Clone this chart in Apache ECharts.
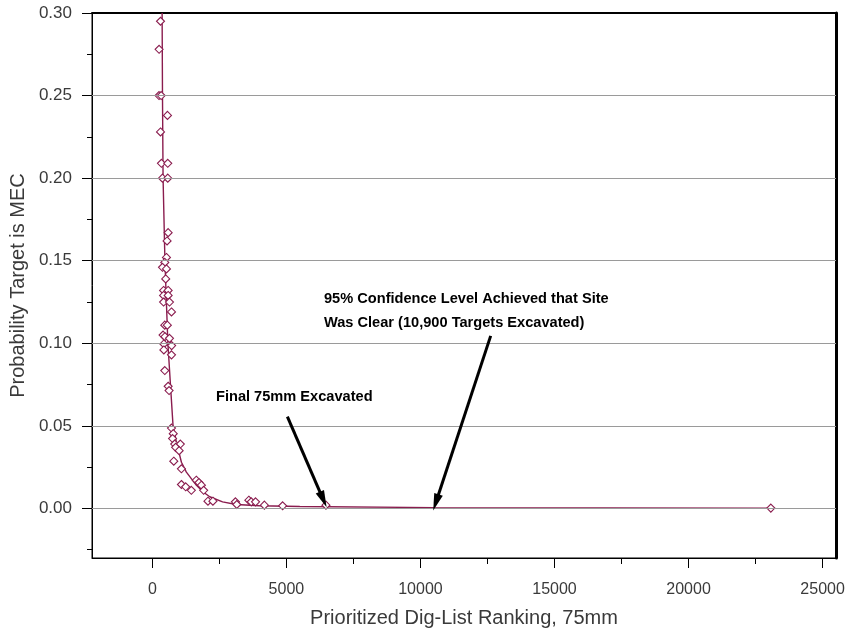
<!DOCTYPE html>
<html>
<head>
<meta charset="utf-8">
<script src="https://cdn.jsdelivr.net/npm/echarts@6/dist/echarts.min.js"></script>
<style>
  html, body { margin: 0; padding: 0; background: #fff; }
  #chart { width: 852px; height: 633px; }
</style>
</head>
<body>
<div id="chart"></div>
<script>
// Fitted probability curve (rank, probability)
const curveRank = [365, 379, 401, 470, 580, 676, 773, 873, 1085, 1270, 1645, 1900, 2140, 2620, 3130, 4000, 5500, 5550, 10500, 10550, 23070];
const curveProb = [0.30, 0.25, 0.20, 0.15, 0.10, 0.075, 0.05, 0.042, 0.028, 0.022, 0.014, 0.010, 0.0071, 0.0040, 0.0024, 0.0016, 0.0012, 0.0007, 0.0005, 0.0003, 0.0002];

// Excavated targets (rank, probability)
const pointRank = [305, 253, 250, 330, 565, 305, 340, 576, 379, 576,
  590, 550, 527, 465, 380, 527, 500, 420, 590, 420,
  590, 420, 640, 715, 465, 560, 400, 470, 640, 430,
  720, 430, 715, 465, 590, 625, 715, 780, 755, 835,
  1045, 870, 1000, 800, 1085, 1085, 1245, 1455, 1640, 1740,
  1830, 1915, 2075, 2260, 3100, 3150, 3600, 3690, 3850, 4180,
  4860, 6476, 23070];
const pointProb = [0.295, 0.278, 0.250, 0.250, 0.238, 0.228, 0.209, 0.209, 0.200, 0.200,
  0.167, 0.162, 0.152, 0.149, 0.146, 0.145, 0.139, 0.132, 0.132, 0.129,
  0.129, 0.125, 0.125, 0.119, 0.111, 0.111, 0.105, 0.104, 0.103, 0.0996,
  0.0986, 0.096, 0.093, 0.0835, 0.074, 0.0714, 0.0487, 0.0453, 0.0423, 0.039,
  0.039, 0.037, 0.035, 0.0286, 0.024, 0.0145, 0.0131, 0.011, 0.0171, 0.0157,
  0.0141, 0.011, 0.0044, 0.0044, 0.0040, 0.0024, 0.005, 0.004, 0.004, 0.002,
  0.0016, 0.002, 0.0002];

// Axis ticks
const xMajorTicks = [0, 5000, 10000, 15000, 20000, 25000];
const xMinorTicks = [2500, 7500, 12500, 17500, 22500];
const yMajorTicks = [0, 0.05, 0.10, 0.15, 0.20, 0.25, 0.30];
const yMinorTicks = [-0.025, 0.025, 0.075, 0.125, 0.175, 0.225, 0.275];
const yGridLines = [0, 0.05, 0.10, 0.15, 0.20, 0.25];

// Callouts: text and arrow from/to (rank, probability)
const finalText = 'Final 75mm Excavated';
const finalArrow = [[5037, 0.0556], [6375, 0.0054]];
const clearText = ['95% Confidence Level Achieved that Site', 'Was Clear (10,900 Targets Excavated)'];
const clearArrow = [[12620, 0.1045], [10576, 0.0036]];

const X_MIN = -2250, X_MAX = 25500, Y_MIN = -0.03, Y_MAX = 0.30;
const FONT = "'Liberation Sans', Arial, sans-serif";
const MAROON = '#8a1c4e';
const LABEL_GRAY = '#3a3a3a';

const chart = echarts.init(document.getElementById('chart'), null, { renderer: 'canvas' });

const curveData = curveRank.map((x, i) => [x, curveProb[i]]);
const pointData = pointRank.map((x, i) => [x, pointProb[i]]);

const arrowLine = (pair) => [
  { coord: pair[0], symbol: 'none' },
  { coord: pair[1], symbol: 'triangle', symbolSize: [9, 17] }
];

chart.setOption({
  animation: false,
  backgroundColor: '#fff',
  grid: { left: 92, right: 16, top: 13, bottom: 74, show: true, borderColor: '#000', borderWidth: 1, backgroundColor: '#fff' },
  xAxis: [
    {
      type: 'value', min: X_MIN, max: X_MAX, position: 'bottom',
      axisLine: { show: true, onZero: false, lineStyle: { color: '#000', width: 1 } },
      axisTick: { show: true, customValues: xMajorTicks, length: 10, lineStyle: { color: '#000' } },
      axisLabel: { customValues: xMajorTicks, margin: 24, fontSize: 16, color: LABEL_GRAY, fontFamily: FONT,
        formatter: (v) => String(v) },
      splitLine: { show: false },
      name: 'Prioritized Dig-List Ranking, 75mm', nameLocation: 'middle', nameGap: 50,
      nameTextStyle: { fontSize: 20, color: LABEL_GRAY, fontFamily: FONT }
    },
    {
      type: 'value', min: X_MIN, max: X_MAX, position: 'bottom',
      axisLine: { show: false, onZero: false },
      axisTick: { show: true, customValues: xMinorTicks, length: 6, lineStyle: { color: '#000' } },
      axisLabel: { show: false }, splitLine: { show: false }
    },
    {
      type: 'value', min: X_MIN, max: X_MAX, position: 'top',
      axisLine: { show: true, onZero: false, lineStyle: { color: '#000', width: 2 } },
      axisTick: { show: false }, axisLabel: { show: false }, splitLine: { show: false }
    }
  ],
  yAxis: [
    {
      type: 'value', min: Y_MIN, max: Y_MAX, position: 'left',
      axisLine: { show: true, onZero: false, lineStyle: { color: '#000', width: 1 } },
      axisTick: { show: true, customValues: yMajorTicks, length: 10, lineStyle: { color: '#000' } },
      axisLabel: { customValues: yMajorTicks, margin: 20, fontSize: 17, color: LABEL_GRAY, fontFamily: FONT,
        formatter: (v) => v.toFixed(2) },
      splitLine: { show: false },
      name: 'Probability Target is MEC', nameLocation: 'middle', nameGap: 60,
      nameTextStyle: { fontSize: 20, color: LABEL_GRAY, fontFamily: FONT }
    },
    {
      type: 'value', min: Y_MIN, max: Y_MAX, position: 'left',
      axisLine: { show: false, onZero: false },
      axisTick: { show: true, customValues: yMinorTicks, length: 5, lineStyle: { color: '#000' } },
      axisLabel: { show: false }, splitLine: { show: false }
    },
    {
      type: 'value', min: Y_MIN, max: Y_MAX, position: 'right',
      axisLine: { show: true, onZero: false, lineStyle: { color: '#000', width: 3 } },
      axisTick: { show: false }, axisLabel: { show: false }, splitLine: { show: false }
    }
  ],
  series: [
    {
      // horizontal reference lines
      type: 'line', data: [], z: 1, silent: true,
      markLine: {
        silent: true, symbol: 'none', animation: false,
        label: { show: false },
        lineStyle: { color: '#9a9a9a', width: 1, type: 'solid' },
        data: yGridLines.map(v => ({ yAxis: v }))
      }
    },
    {
      name: 'curve', type: 'line', data: curveData, z: 3,
      showSymbol: false, clip: true,
      lineStyle: { color: MAROON, width: 1.4 },
      markLine: {
        silent: true, animation: false,
        label: { show: false },
        lineStyle: { color: '#000', width: 3, type: 'solid' },
        itemStyle: { color: '#000' },
        data: [arrowLine(finalArrow), arrowLine(clearArrow)]
      }
    },
    {
      name: 'targets', type: 'scatter', data: pointData, z: 4,
      symbol: 'diamond', symbolSize: 8,
      itemStyle: { color: '#fff', borderColor: MAROON, borderWidth: 1.1, opacity: 1 }
    }
  ],
  graphic: [
    {
      type: 'text', left: 216, top: 389,
      style: { text: finalText, font: 'bold 14.6px ' + FONT, fill: '#000' }
    },
    {
      type: 'text', left: 324, top: 287,
      style: { text: clearText.join('\n'), font: 'bold 14.6px ' + FONT, fill: '#000', lineHeight: 24 }
    }
  ]
});
</script>
</body>
</html>
